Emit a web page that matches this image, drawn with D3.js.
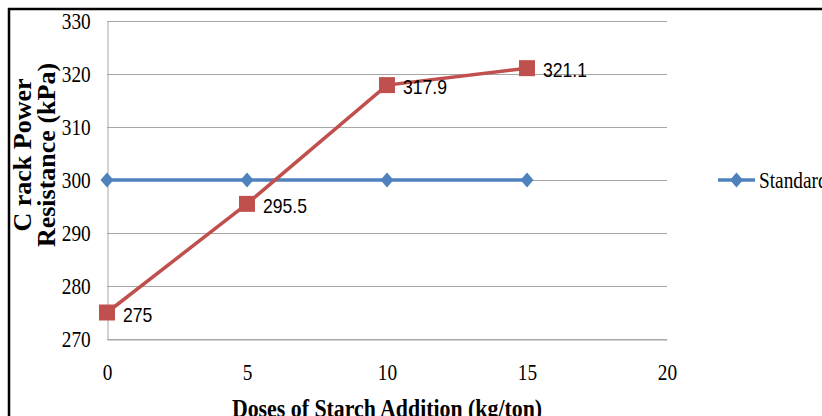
<!DOCTYPE html>
<html>
<head>
<meta charset="utf-8">
<script src="https://cdn.jsdelivr.net/npm/d3@7"></script>
<style>
  html, body { margin: 0; padding: 0; background: #fff; overflow: hidden; }
  svg { display: block; }
</style>
</head>
<body>
<svg id="chart" width="822" height="416"></svg>
<script>
// Doses of starch (kg/ton) and measured crack power resistance (kPa)
const doses = [0, 5, 10, 15];
const standardValues = [300, 300, 300, 300];
const starchValues = [275, 295.5, 317.9, 321.1];
const xTicks = [0, 5, 10, 15, 20];
const yTicks = [270, 280, 290, 300, 310, 320, 330];
const legendLabel = "Standard";

const svg = d3.select("#chart");
const W = 822, H = 416;

const plot = { left: 107, right: 667, top: 21, bottom: 339 };
const x = d3.scaleLinear().domain([0, 20]).range([plot.left, plot.right]);
const y = d3.scaleLinear().domain([270, 330]).range([plot.bottom, plot.top]);

const blue = "#4F81BD", red = "#C0504D", grid = "#A6A6A6";
const serif = "'Liberation Serif', 'Times New Roman', serif";
const squeeze = "scale(0.84,1)";

// outer frame (left and top edges visible)
svg.append("path")
  .attr("d", `M9,${H + 5} L9,9 L${W + 5},9`)
  .attr("fill", "none").attr("stroke", "#000").attr("stroke-width", 2.5);

// horizontal grid lines
svg.append("g").selectAll("line").data(yTicks).join("line")
  .attr("x1", plot.left).attr("x2", plot.right)
  .attr("y1", d => Math.round(y(d)) + 0.5).attr("y2", d => Math.round(y(d)) + 0.5)
  .attr("stroke", grid).attr("stroke-width", 1);

// y axis
const yAxis = svg.append("g")
  .attr("transform", `translate(${plot.left + 0.5},0)`)
  .call(d3.axisLeft(y).tickValues(yTicks).tickSize(0).tickPadding(20));
yAxis.select(".domain").attr("stroke", grid);
yAxis.selectAll("text")
  .attr("font-family", serif)
  .attr("font-size", 23).attr("fill", "#000")
  .attr("transform", squeeze);

// x axis
const xAxis = svg.append("g")
  .attr("transform", `translate(0,${plot.bottom + 0.5})`)
  .call(d3.axisBottom(x).tickValues(xTicks).tickSize(0).tickPadding(24));
xAxis.select(".domain").attr("stroke", grid);
xAxis.selectAll("text")
  .attr("font-family", serif)
  .attr("font-size", 23).attr("fill", "#000")
  .attr("transform", squeeze);

// axis titles
svg.append("text")
  .attr("transform", `translate(${plot.left + (plot.right - plot.left) / 2},417) ${squeeze}`)
  .attr("text-anchor", "middle")
  .attr("font-family", serif)
  .attr("font-weight", "bold").attr("font-size", 26)
  .text("Doses of Starch Addition (kg/ton)");

const yTitle = svg.append("g").attr("transform", "translate(0,155) rotate(-90)");
yTitle.append("text")
  .attr("x", 0).attr("y", 31)
  .attr("text-anchor", "middle")
  .attr("font-family", serif)
  .attr("font-weight", "bold").attr("font-size", 26)
  .text("C rack Power");
yTitle.append("text")
  .attr("x", 0).attr("y", 55)
  .attr("text-anchor", "middle")
  .attr("font-family", serif)
  .attr("font-weight", "bold").attr("font-size", 26)
  .text("Resistance (kPa)");

// series lines
const line = d3.line().x(d => x(d[0])).y(d => y(d[1]));
const stdPts = doses.map((d, i) => [d, standardValues[i]]);
const starchPts = doses.map((d, i) => [d, starchValues[i]]);

svg.append("path").datum(stdPts)
  .attr("d", line).attr("fill", "none")
  .attr("stroke", blue).attr("stroke-width", 3.5);

const diamond = (cx, cy, w, h) => `M${cx},${cy - h / 2} L${cx + w / 2},${cy} L${cx},${cy + h / 2} L${cx - w / 2},${cy} Z`;
svg.append("g").selectAll("path").data(stdPts).join("path")
  .attr("d", d => diamond(x(d[0]), y(d[1]), 13, 15))
  .attr("fill", blue);

svg.append("path").datum(starchPts)
  .attr("d", line).attr("fill", "none")
  .attr("stroke", red).attr("stroke-width", 3.5);

svg.append("g").selectAll("rect").data(starchPts).join("rect")
  .attr("x", d => x(d[0]) - 8).attr("y", d => y(d[1]) - 8)
  .attr("width", 16).attr("height", 16)
  .attr("fill", red);

// data labels
svg.append("g").selectAll("text").data(starchPts).join("text")
  .attr("transform", d => `translate(${x(d[0]) + 16},${y(d[1]) + 9}) scale(0.88,1)`)
  .attr("font-family", "'Liberation Sans', Arial, sans-serif")
  .attr("font-size", 20).attr("fill", "#000")
  .text(d => String(d[1]));

// legend
const lg = svg.append("g");
lg.append("line").attr("x1", 718).attr("x2", 755).attr("y1", 180).attr("y2", 180)
  .attr("stroke", blue).attr("stroke-width", 3.5);
lg.append("path").attr("d", diamond(736.5, 180, 13, 15)).attr("fill", blue);
lg.append("text")
  .attr("transform", `translate(759,188) ${squeeze}`)
  .attr("font-family", serif)
  .attr("font-size", 23).attr("fill", "#000")
  .text(legendLabel);
</script>
</body>
</html>
